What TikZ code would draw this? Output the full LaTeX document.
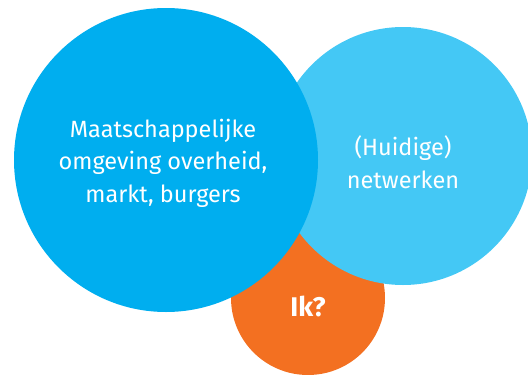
\documentclass[tikz,border=0pt]{standalone}
\usepackage{fontspec}
\setmainfont{Fira Sans}
\usepackage{tikz}

\definecolor{donkerblauw}{RGB}{0,174,239}
\definecolor{lichtblauw}{RGB}{68,200,245}
\definecolor{oranje}{RGB}{243,112,33}

\begin{document}
\begin{tikzpicture}[x=1pt,y=-1pt,
                    bol/.style={circle,inner sep=0pt},
                    tekst/.style={text=white,align=center,font=\fontsize{23.5}{32.5}\selectfont}
                    ]

                \useasboundingbox (0,0) rectangle (528,375);

                % The circles
                \node[bol,fill=oranje,minimum size=154pt] (ik) at (308,298) {};
                \node[bol,fill=lichtblauw,minimum size=258pt] (netwerken) at (403,156) {};
                \node[bol,fill=donkerblauw,minimum size=304pt] (omgeving) at (166,160) {};

                % The labels
                \node[tekst] (omgevingtekst) at ([xshift=-3pt,yshift=-3pt]omgeving.center) {Maatschappelijke\\omgeving overheid,\\markt, burgers};
                \node[tekst] (netwerkentekst) at ([yshift=-6pt]netwerken.center) {(Huidige)\\netwerken};
                \node[tekst,font=\fontsize{27}{32}\selectfont\bfseries] (iktekst) at ([yshift=-8pt]ik.center) {Ik?};
            \end{tikzpicture}
\end{document}
